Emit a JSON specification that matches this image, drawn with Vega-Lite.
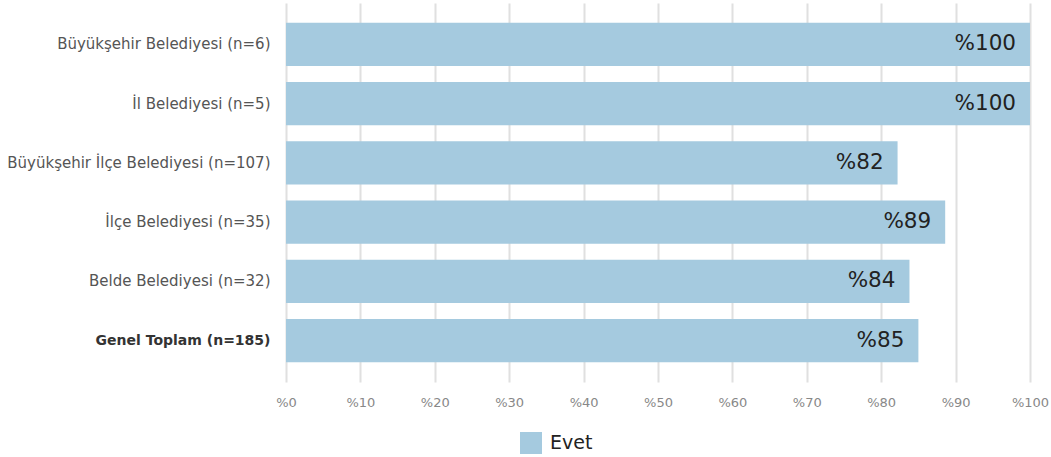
{
  "$schema": "https://vega.github.io/schema/vega-lite/v6.json",
  "autosize": {"type": "none"},
  "width": 744,
  "height": 379,
  "padding": {"left": 286, "top": 3, "right": 21, "bottom": 75},
  "background": "white",
  "config": {
    "view": {"stroke": null},
    "font": "DejaVu Sans"
  },
  "data": {
    "values": [
      {"kategori": "Büyükşehir Belediyesi (n=6)", "deger": 100, "etiket": "%100", "seri": "Evet"},
      {"kategori": "İl Belediyesi (n=5)", "deger": 100, "etiket": "%100", "seri": "Evet"},
      {"kategori": "Büyükşehir İlçe Belediyesi (n=107)", "deger": 82.2, "etiket": "%82", "seri": "Evet"},
      {"kategori": "İlçe Belediyesi (n=35)", "deger": 88.6, "etiket": "%89", "seri": "Evet"},
      {"kategori": "Belde Belediyesi (n=32)", "deger": 83.8, "etiket": "%84", "seri": "Evet"},
      {"kategori": "Genel Toplam (n=185)", "deger": 85.0, "etiket": "%85", "seri": "Evet"}
    ]
  },
  "encoding": {
    "y": {
      "field": "kategori",
      "type": "nominal",
      "sort": null,
      "scale": {"paddingInner": 0.27, "paddingOuter": 0.335},
      "axis": {
        "title": null,
        "domain": false,
        "ticks": false,
        "labelPadding": 16,
        "labelFontSize": {"expr": "datum.value == 'Genel Toplam (n=185)' ? 14 : 15"},
        "labelColor": {"expr": "datum.value == 'Genel Toplam (n=185)' ? '#333333' : '#555555'"},
        "labelFontWeight": {"expr": "datum.value == 'Genel Toplam (n=185)' ? 'bold' : 'normal'"},
        "labelLimit": 300
      }
    },
    "x": {
      "field": "deger",
      "type": "quantitative",
      "scale": {"domain": [0, 100], "nice": false},
      "axis": {
        "title": null,
        "values": [0, 10, 20, 30, 40, 50, 60, 70, 80, 90, 100],
        "labelExpr": "'%' + datum.value",
        "labelFlush": false,
        "labelOverlap": false,
        "domain": false,
        "ticks": false,
        "labelPadding": 14,
        "labelFontSize": 13,
        "labelColor": "#888888",
        "grid": true,
        "gridColor": "#e0e0e0",
        "gridWidth": 2
      }
    }
  },
  "layer": [
    {
      "mark": {"type": "bar", "x2Offset": 2},
      "encoding": {
        "color": {
          "field": "seri",
          "type": "nominal",
          "scale": {"range": ["#a5cadf"]},
          "legend": {
            "title": null,
            "orient": "none",
            "legendX": 234,
            "legendY": 429,
            "padding": 0,
            "symbolType": "square",
            "symbolSize": 484,
            "symbolStrokeWidth": 0,
            "symbolOpacity": 1,
            "labelFontSize": 19,
            "labelColor": "#222222",
            "labelOffset": 8
          }
        }
      }
    },
    {
      "mark": {"type": "text", "align": "right", "baseline": "middle", "dx": -14, "fontSize": 21.5, "color": "#222222"},
      "encoding": {
        "text": {"field": "etiket"}
      }
    }
  ]
}
